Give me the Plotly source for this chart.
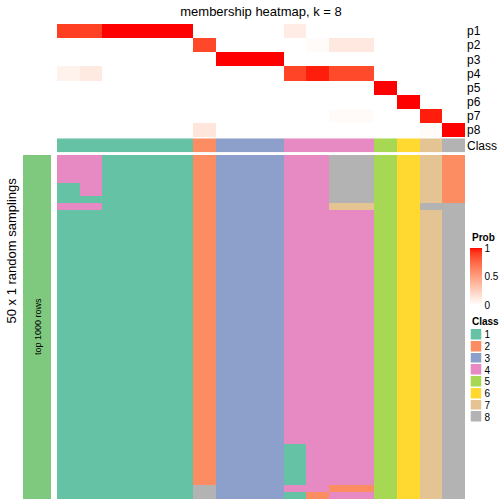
import plotly.graph_objects as go

# ---------------- data ----------------
prob_labels = ["p1", "p2", "p3", "p4", "p5", "p6", "p7", "p8"]
# membership probabilities, rows p1..p8, 18 columns
p1 = [0.90, 0.89, 1, 1, 1, 1, 0, 0, 0, 0, 0.10, 0, 0, 0, 0, 0, 0, 0]
p2 = [0, 0, 0, 0, 0, 0, 0.87, 0, 0, 0, 0, 0.02, 0.12, 0.12, 0, 0, 0, 0]
p3 = [0, 0, 0, 0, 0, 0, 0, 1, 1, 1, 0, 0, 0, 0, 0, 0, 0, 0]
p4 = [0.07, 0.11, 0, 0, 0, 0, 0, 0, 0, 0, 0.88, 0.97, 0.86, 0.86, 0, 0, 0, 0]
p5 = [0, 0, 0, 0, 0, 0, 0, 0, 0, 0, 0, 0, 0, 0, 1, 0, 0, 0]
p6 = [0, 0, 0, 0, 0, 0, 0, 0, 0, 0, 0, 0, 0, 0, 0, 1, 0, 0]
p7 = [0, 0, 0, 0, 0, 0, 0, 0, 0, 0, 0, 0, 0.02, 0.02, 0, 0, 0.97, 0]
p8 = [0, 0, 0, 0, 0, 0, 0.13, 0, 0, 0, 0, 0, 0, 0, 0, 0, 0.02, 1]

class_row = [1, 1, 1, 1, 1, 1, 2, 3, 3, 3, 4, 4, 4, 4, 5, 6, 7, 8]

# 50 random samplings: per column run-lengths (class, number of rows), top to bottom
sampling_runs = [
    [(4, 4), (1, 3), (4, 1), (1, 42)],
    [(4, 6), (1, 1), (4, 1), (1, 42)],
    [(1, 50)],
    [(1, 50)],
    [(1, 50)],
    [(1, 50)],
    [(2, 48), (8, 2)],
    [(3, 50)],
    [(3, 50)],
    [(3, 50)],
    [(4, 42), (1, 6), (4, 1), (1, 1)],
    [(4, 49), (2, 1)],
    [(8, 7), (7, 1), (4, 40), (2, 1), (4, 1)],
    [(8, 7), (7, 1), (4, 40), (2, 1), (4, 1)],
    [(5, 50)],
    [(6, 50)],
    [(7, 7), (8, 1), (7, 42)],
    [(2, 7), (8, 43)],
]

class_ids = [1, 2, 3, 4, 5, 6, 7, 8]
class_labels = ["1", "2", "3", "4", "5", "6", "7", "8"]
class_colors = ["#66C2A5", "#FC8D62", "#8DA0CB", "#E78AC3",
                "#A6D854", "#FFD92F", "#E5C494", "#B3B3B3"]
bar_color = "#7FC97F"

# ---------------- helpers ----------------
def _lin(c):
    c = c / 255.0
    return c / 12.92 if c <= 0.04045 else ((c + 0.055) / 1.055) ** 2.4

def _gam(c):
    c = max(0.0, min(1.0, c))
    v = 12.92 * c if c <= 0.0031308 else 1.055 * c ** (1 / 2.4) - 0.055
    return int(round(max(0, min(1, v)) * 255))

Xn, Yn, Zn = 0.95047, 1.0, 1.08883

def rgb2lab(rgb):
    r, g, b = [_lin(v) for v in rgb]
    X = 0.4124 * r + 0.3576 * g + 0.1805 * b
    Y = 0.2126 * r + 0.7152 * g + 0.0722 * b
    Z = 0.0193 * r + 0.1192 * g + 0.9505 * b
    def f(t):
        return t ** (1 / 3) if t > 0.008856 else 7.787 * t + 16 / 116
    fx, fy, fz = f(X / Xn), f(Y / Yn), f(Z / Zn)
    return (116 * fy - 16, 500 * (fx - fy), 200 * (fy - fz))

def lab2rgb(lab):
    L, a, bb = lab
    fy = (L + 16) / 116
    fx = fy + a / 500
    fz = fy - bb / 200
    def finv(t):
        return t ** 3 if t > 0.2069 else (t - 16 / 116) / 7.787
    X, Y, Z = Xn * finv(fx), Yn * finv(fy), Zn * finv(fz)
    r = 3.2406 * X - 1.5372 * Y - 0.4986 * Z
    g = -0.9689 * X + 1.8758 * Y + 0.0415 * Z
    b = 0.0557 * X - 0.2040 * Y + 1.0570 * Z
    return "rgb(%d,%d,%d)" % (_gam(r), _gam(g), _gam(b))

w_lab = rgb2lab((255, 255, 255))
r_lab = rgb2lab((255, 0, 0))
n_stops = 40
prob_scale = []
for i in range(n_stops + 1):
    t = i / n_stops
    lab = tuple(w_lab[k] + (r_lab[k] - w_lab[k]) * t for k in range(3))
    prob_scale.append([t, lab2rgb(lab)])

n_cls = len(class_colors)
class_scale = []
for i, c in enumerate(class_colors):
    class_scale.append([i / n_cls, c])
    class_scale.append([(i + 1) / n_cls, c])

prob_z = [p1, p2, p3, p4, p5, p6, p7, p8]

n_rows = 50
sampling_z = [[0] * len(sampling_runs) for _ in range(n_rows)]
for j, runs in enumerate(sampling_runs):
    r = 0
    for cls, cnt in runs:
        for _ in range(cnt):
            sampling_z[r][j] = cls
            r += 1

W = H = 504.0
def px_x(v):
    return v / W
def px_y(v):
    return 1 - v / H

FONT = "Liberation Sans, Arial, Helvetica, sans-serif"
n_cols = len(class_row)
cols = list(range(n_cols))

fig = go.Figure()

# top probability heatmap
fig.add_trace(go.Heatmap(
    z=prob_z, x=cols, y=list(range(len(prob_labels))),
    colorscale=prob_scale, zmin=0, zmax=1, xaxis="x", yaxis="y",
    hoverinfo="skip",
    colorbar=dict(
        x=px_x(469.5), xanchor="left", xpad=0,
        y=px_y(276.5), yanchor="middle", ypad=0,
        len=57, lenmode="pixels", thickness=12, thicknessmode="pixels",
        outlinewidth=0, ticks="", tickvals=[0, 0.5, 1], ticktext=["0", "0.5", "1"],
        tickfont=dict(size=10, family=FONT, color="black"), ticklabelposition="outside",
    ),
))

# class row
fig.add_trace(go.Heatmap(
    z=[class_row], x=cols, y=[0], colorscale=class_scale, zmin=0.5, zmax=8.5,
    showscale=False, xaxis="x", yaxis="y2", hoverinfo="skip",
))

# sampling heatmap
fig.add_trace(go.Heatmap(
    z=sampling_z, x=cols, y=list(range(n_rows)), colorscale=class_scale,
    zmin=0.5, zmax=8.5, showscale=False, xaxis="x", yaxis="y3", hoverinfo="skip",
))

# left bar
fig.add_trace(go.Heatmap(
    z=[[1]], x=[0], y=[0], colorscale=[[0, bar_color], [1, bar_color]],
    showscale=False, xaxis="x2", yaxis="y4", hoverinfo="skip",
))

# class legend
fig.add_trace(go.Heatmap(
    z=[[c] for c in class_ids], x=[0], y=list(range(n_cls)),
    colorscale=class_scale, zmin=0.5, zmax=8.5, showscale=False, ygap=1.5,
    xaxis="x3", yaxis="y5", hoverinfo="skip",
))

noax = dict(showgrid=False, zeroline=False, showticklabels=False, ticks="", showline=False)

fig.update_layout(
    width=504, height=504,
    margin=dict(l=0, r=0, t=0, b=0),
    paper_bgcolor="white", plot_bgcolor="white",
    font=dict(family=FONT, color="black"),
    title=dict(text="membership heatmap, k = 8", x=px_x(261), y=px_y(11),
               xanchor="center", yanchor="middle", font=dict(size=13, family=FONT)),
    xaxis=dict(domain=[px_x(57), px_x(465)], range=[-0.5, n_cols - 0.5], **noax),
    yaxis=dict(domain=[px_y(137), px_y(24)], range=[7.5, -0.5], anchor="x", side="right",
               showgrid=False, zeroline=False, ticks="", showline=False,
               tickvals=list(range(8)), ticktext=prob_labels, ticklabelstandoff=1,
               tickfont=dict(size=12, family=FONT)),
    yaxis2=dict(domain=[px_y(152.3), px_y(138.3)], range=[-0.5, 0.5], anchor="x", side="right",
                showgrid=False, zeroline=False, ticks="", showline=False, ticklabelstandoff=1,
                tickvals=[0], ticktext=["Class"], tickfont=dict(size=12, family=FONT)),
    yaxis3=dict(domain=[px_y(499), px_y(155)], range=[n_rows - 0.5, -0.5], anchor="x", **noax),
    xaxis2=dict(domain=[px_x(23), px_x(51)], range=[-0.5, 0.5], anchor="y4", **noax),
    yaxis4=dict(domain=[px_y(499), px_y(155)], range=[-0.5, 0.5], anchor="x2", **noax),
    xaxis3=dict(domain=[px_x(470.5), px_x(481.5)], range=[-0.5, 0.5], anchor="y5", **noax),
    yaxis5=dict(domain=[px_y(423), px_y(329)], range=[7.5, -0.5], anchor="x3", side="right",
                showgrid=False, zeroline=False, ticks="", showline=False, ticklabelstandoff=2,
                tickvals=list(range(n_cls)), ticktext=class_labels,
                tickfont=dict(size=10, family=FONT)),
    annotations=[
        dict(text="top 1000 rows", x=px_x(38), y=px_y(327), xref="paper", yref="paper",
             xanchor="center", yanchor="middle",
             showarrow=False, textangle=-90, font=dict(size=9, family=FONT)),
        dict(text="50 x 1 random samplings", x=px_x(10.5), y=px_y(251), xref="paper",
             yref="paper", xanchor="center", yanchor="middle",
             showarrow=False, textangle=-90, font=dict(size=13, family=FONT)),
        dict(text="<b>Prob</b>", x=px_x(470), y=px_y(237), xref="paper", yref="paper",
             xanchor="left", yanchor="middle", showarrow=False, font=dict(size=10, family=FONT)),
        dict(text="<b>Class</b>", x=px_x(470), y=px_y(321), xref="paper", yref="paper",
             xanchor="left", yanchor="middle", showarrow=False, font=dict(size=10, family=FONT)),
    ],
)

fig.write_html("out.html", config={"displayModeBar": False},
               post_script="document.body.style.margin='0px';document.body.style.padding='0px';")
